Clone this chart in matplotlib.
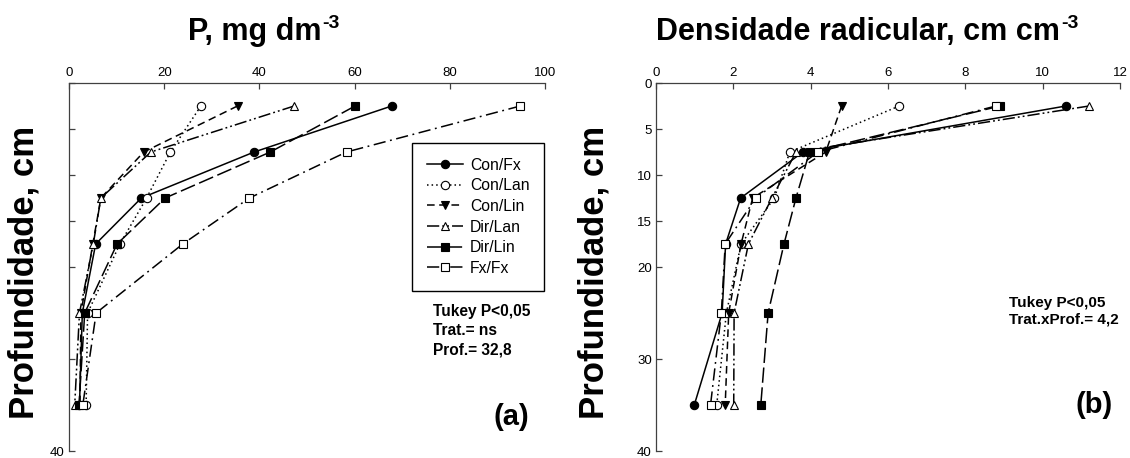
import numpy as np
import matplotlib
matplotlib.use("Agg")
import matplotlib.pyplot as plt

plt.rcParams['font.family'] = ['Liberation Sans', 'DejaVu Sans']

# profundidade (cm)
prof = [2.5, 7.5, 12.5, 17.5, 25, 35]

nomes = ['Con/Fx', 'Con/Lan', 'Con/Lin', 'Dir/Lan', 'Dir/Lin', 'Fx/Fx']

# P, mg dm-3
p_confx = [67.8, 38.9, 15.2, 5.6, 2.8, 2.2]
p_conlan = [27.7, 21.3, 16.3, 10.7, 3.9, 3.6]
p_conlin = [35.4, 15.7, 6.7, 5.0, 2.5, 2.3]
p_dirlan = [47.3, 17.2, 6.7, 5.1, 2.2, 1.2]
p_dirlin = [60.1, 42.3, 20.2, 10.1, 3.3, 2.1]
p_fxfx = [94.8, 58.3, 37.9, 23.9, 5.7, 2.9]

# densidade radicular, cm cm-3
d_confx = [10.6, 3.8, 2.19, 1.8, 1.71, 0.99]
d_conlan = [6.29, 3.46, 3.06, 2.2, 1.82, 1.57]
d_conlin = [4.8, 4.39, 2.5, 2.2, 1.88, 1.79]
d_dirlan = [11.2, 3.62, 3.0, 2.39, 2.02, 2.01]
d_dirlin = [8.9, 3.97, 3.62, 3.31, 2.9, 2.71]
d_fxfx = [8.79, 4.19, 2.58, 1.79, 1.69, 1.41]

estilos = [
    dict(ls='-', marker='o', mfc='black'),
    dict(ls=(0, (1, 2)), marker='o', mfc='white'),
    dict(ls=(0, (5, 3)), marker='v', mfc='black'),
    dict(ls=(0, (8, 2, 1.2, 2, 1.2, 2)), marker='^', mfc='white'),
    dict(ls=(0, (10, 3)), marker='s', mfc='black'),
    dict(ls=(0, (8, 3, 1.2, 3)), marker='s', mfc='white'),
]

W, H = 1130, 458
fig = plt.figure(figsize=(W / 100, H / 100), dpi=100)

def px_axes(x0, x1, y0, y1):
    return fig.add_axes([x0 / W, 1 - y1 / H, (x1 - x0) / W, (y1 - y0) / H])

ax1 = px_axes(69, 545, 83, 451)
ax2 = px_axes(656, 1120, 83, 451)

for ax in (ax1, ax2):
    ax.set_ylim(40, 0)
    ax.xaxis.tick_top()
    ax.spines['right'].set_visible(False)
    ax.spines['bottom'].set_visible(False)
    for s in ('top', 'left'):
        ax.spines[s].set_color('#404040')
        ax.spines[s].set_linewidth(0.9)
    ax.tick_params(direction='in', length=4, width=0.9, color='#404040',
                   labelsize=9.5, pad=3)
    ax.set_yticks([0, 5, 10, 15, 20, 30, 40])

ax1.set_xlim(0, 100)
ax1.set_xticks([0, 20, 40, 60, 80, 100])
ax1.set_yticklabels(['', '', '', '', '', '', '40'])
ax2.set_xlim(0, 12)
ax2.set_xticks([0, 2, 4, 6, 8, 10, 12])

dados_p = [p_confx, p_conlan, p_conlin, p_dirlan, p_dirlin, p_fxfx]
dados_d = [d_confx, d_conlan, d_conlin, d_dirlan, d_dirlin, d_fxfx]

for nome, st, xp, xd in zip(nomes, estilos, dados_p, dados_d):
    for ax, xs in ((ax1, xp), (ax2, xd)):
        ax.plot(xs, prof, color='black', lw=1.1, ls=st['ls'], marker=st['marker'],
                mfc=st['mfc'], mec='black', mew=0.8, ms=6, label=nome, clip_on=False)

leg = ax1.legend(loc='upper left', bbox_to_anchor=((411.7 - 69) / 476, 1 - (142.7 - 83) / 368),
                 borderaxespad=0, fontsize=11.3, frameon=True, fancybox=False,
                 edgecolor='black', framealpha=1, handlelength=2.3, handletextpad=0.45,
                 labelspacing=0.36, borderpad=0.95, numpoints=1)
leg.get_frame().set_linewidth(1.0)

# titulos com expoente
renderer = fig.canvas.get_renderer()
for xc, txt in ((263, 'P, mg dm'), (867, 'Densidade radicular, cm cm')):
    base = fig.text(0, 0, txt, fontsize=22, fontweight='bold')
    bb = base.get_window_extent(renderer)
    sup = fig.text(0, 0, '-3', fontsize=14, fontweight='bold')
    sb = sup.get_window_extent(renderer)
    total = bb.width + sb.width
    x0 = xc - total / 2
    base.set_position((x0 / W, 1 - 40 / H))
    base.set_va('baseline')
    sup.set_position(((x0 + bb.width + 1) / W, 1 - 28 / H))
    sup.set_va('baseline')

for xc in (24, 594):
    fig.text(xc / W, 1 - 272 / H, 'Profundidade, cm', rotation=90, ha='center', va='center',
             fontsize=25, fontweight='bold')

fig.text(433 / W, 1 - 304 / H, 'Tukey P<0,05\nTrat.= ns\nProf.= 32,8', ha='left', va='top',
         fontsize=11.2, fontweight='bold', linespacing=1.37)
fig.text(1009 / W, 1 - 295.5 / H, 'Tukey P<0,05\nTrat.xProf.= 4,2', ha='left', va='top',
         fontsize=11, fontweight='bold', linespacing=1.3)

fig.text(511 / W, 1 - 417 / H, '(a)', ha='center', va='center', fontsize=21, fontweight='bold')
fig.text(1094 / W, 1 - 405 / H, '(b)', ha='center', va='center', fontsize=21, fontweight='bold')

fig.savefig('out.png', dpi=100)
